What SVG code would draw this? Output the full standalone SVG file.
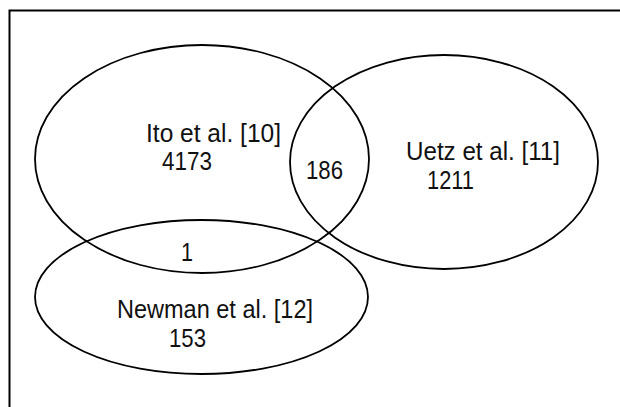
<svg xmlns="http://www.w3.org/2000/svg" width="620" height="407" viewBox="0 0 620 407">
<style>
.set{fill:none;stroke:#000;stroke-width:1.8}
.frame{fill:none;stroke:#000;stroke-width:2}
text{font-family:"Liberation Sans",Arial,sans-serif;font-size:25px;fill:#111}
</style>
<rect width="620" height="407" fill="#fff"/>
<rect class="frame" x="9.5" y="10.5" width="700" height="500"/>
<g id="ito">
<ellipse class="set" cx="202" cy="159" rx="167" ry="114"/>
<text x="146" y="142" textLength="135" lengthAdjust="spacingAndGlyphs">Ito et al. [10]</text>
<text x="162" y="170" textLength="50" lengthAdjust="spacingAndGlyphs">4173</text>
</g>
<g id="uetz">
<ellipse class="set" cx="444" cy="162" rx="154" ry="107"/>
<text x="406" y="160" textLength="154" lengthAdjust="spacingAndGlyphs">Uetz et al. [11]</text>
<text x="427" y="189" textLength="47" lengthAdjust="spacingAndGlyphs">1211</text>
</g>
<g id="newman">
<ellipse class="set" cx="201.5" cy="297" rx="166.5" ry="77"/>
<text x="117" y="318" textLength="196" lengthAdjust="spacingAndGlyphs">Newman et al. [12]</text>
<text x="169" y="347" textLength="37" lengthAdjust="spacingAndGlyphs">153</text>
</g>
<g id="overlaps">
<text x="306" y="179" textLength="37" lengthAdjust="spacingAndGlyphs">186</text>
<text x="181" y="261" textLength="12" lengthAdjust="spacingAndGlyphs">1</text>
</g>
<g id="connectors"></g>
</svg>
